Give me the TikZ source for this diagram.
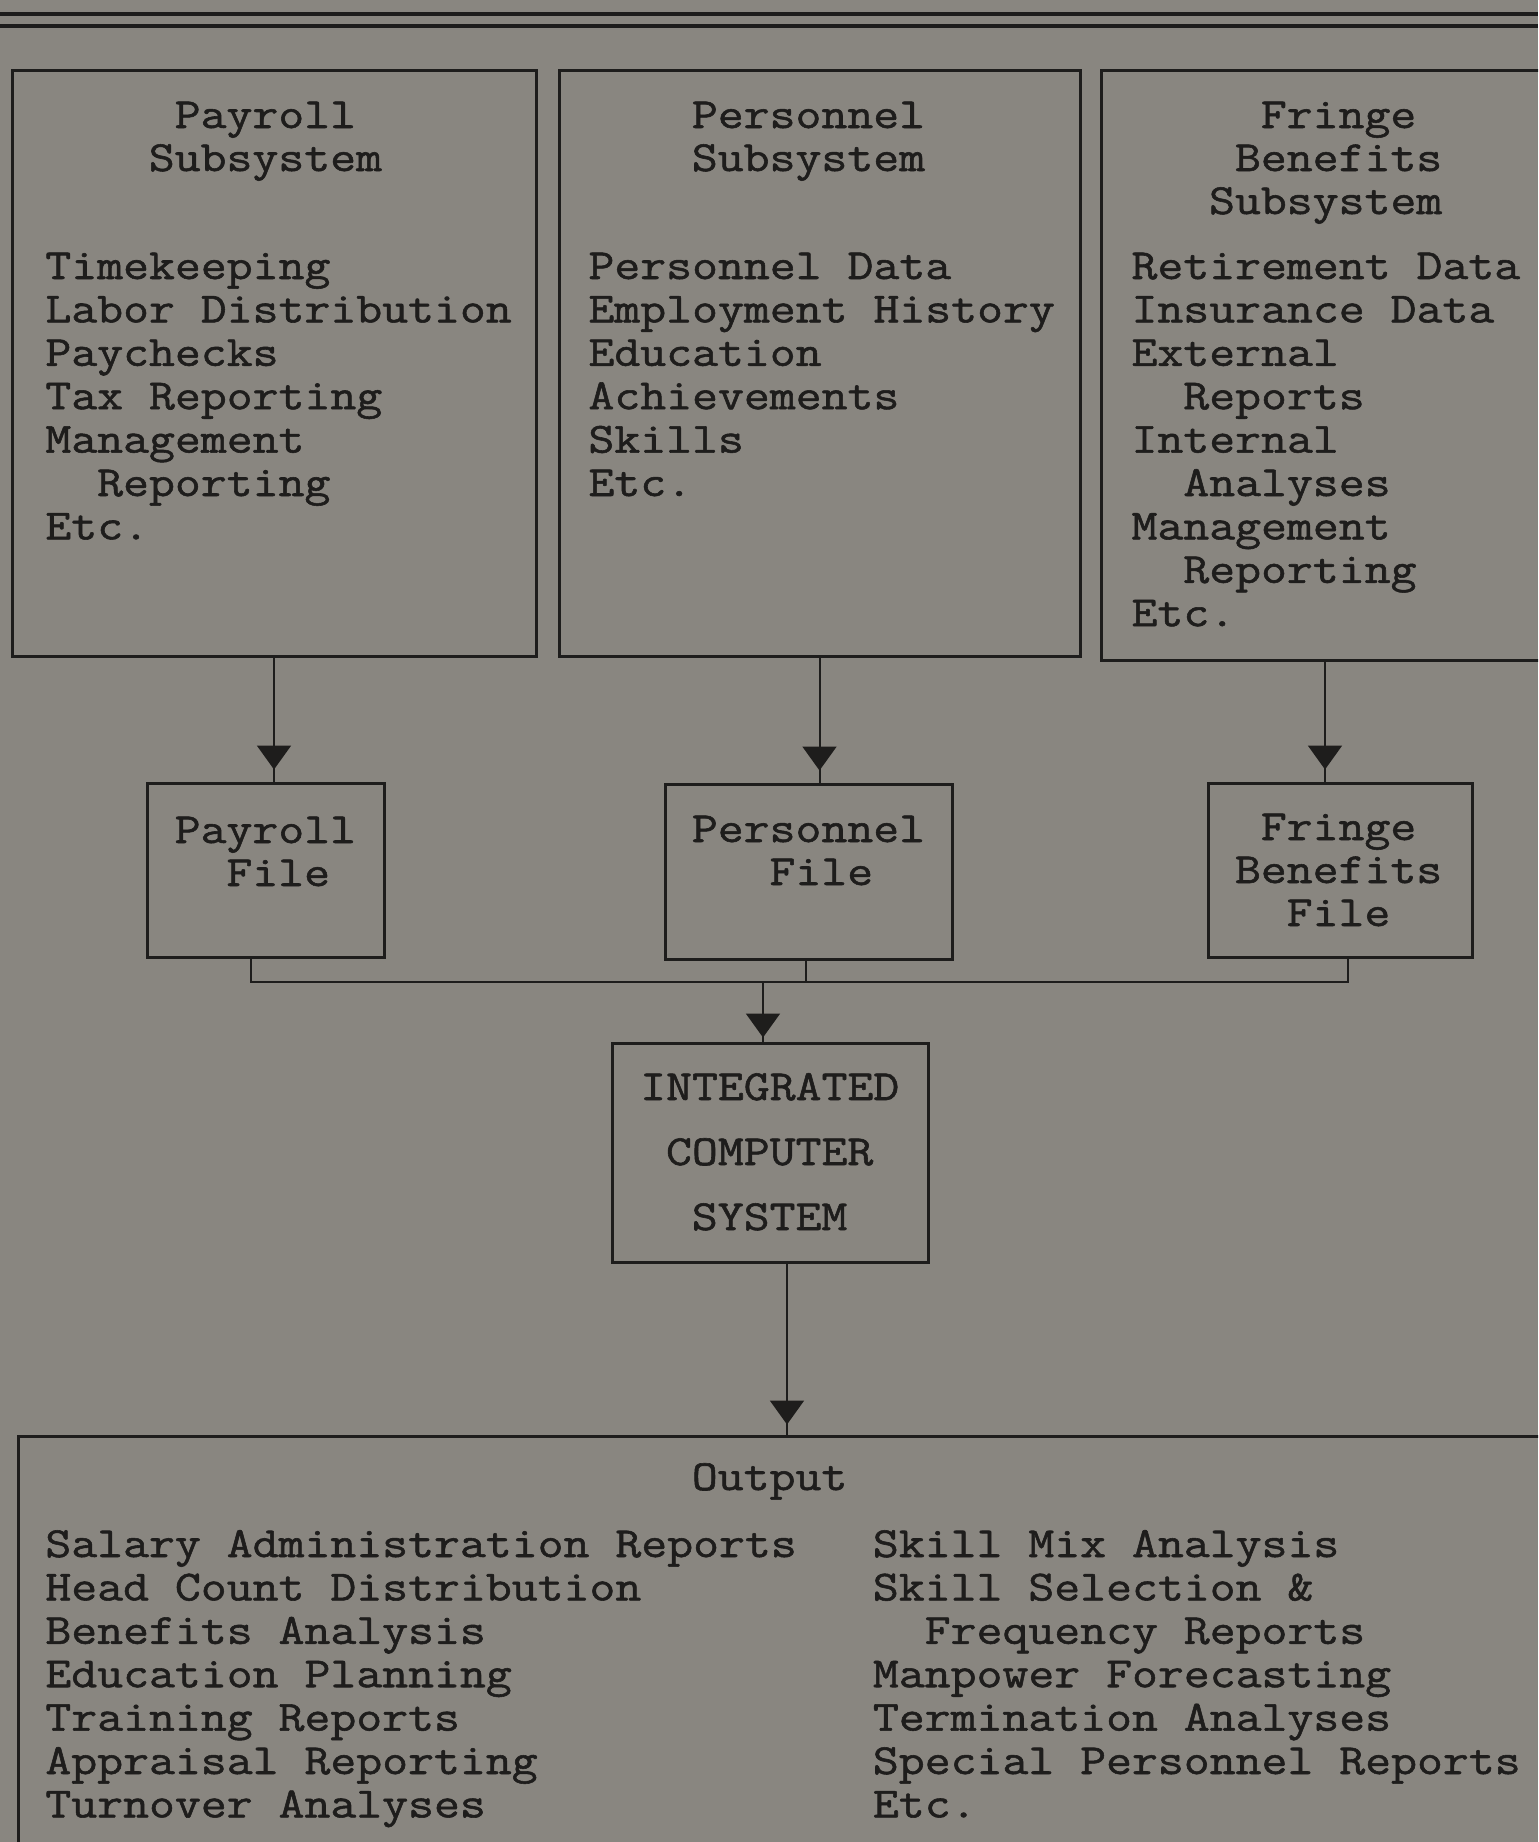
\documentclass[tikz,border=0pt]{standalone}
\usepackage{fontspec}
\newfontfamily\tw{Latin Modern Mono}[FakeBold=1.3,FakeStretch=1.17]
\usetikzlibrary{arrows.meta,decorations.markings,fit}
\definecolor{paper}{RGB}{137,134,128}
\definecolor{ink}{RGB}{30,29,28}
\begin{document}
\begin{tikzpicture}[x=0.5pt,y=-0.5pt,color=ink,
  txt/.style={font=\tw\fontsize{21.5}{21.7}\selectfont, text=ink, inner sep=0pt, anchor=base west},
  box/.style={draw=ink, line width=1.5pt, inner sep=0pt},
  wire/.style={draw=ink, line width=1pt},
  flow/.style={wire, postaction={decorate},
    decoration={markings, mark=at position -#1 with {\arrow{Triangle[width=17pt,length=12pt]}}}},
  flow/.default=6pt]
\def\cw{25.86}
\def\ls{43.4}
\useasboundingbox (0,0) rectangle (1538,1842);
\fill[paper] (0,0) rectangle (1538,1842);
\clip (0,0) rectangle (1538,1842);

% header rules
\draw[line width=2pt] (0,14) -- (1538,14);
\draw[line width=2pt] (0,26) -- (1538,26);

% boxes
\node[box, fit={(12,70) (536,656)}] (sub1) {};
\node[box, fit={(559,70) (1080,656)}] (sub2) {};
\node[box, fit={(1101,70) (1549,660)}] (sub3) {};
\node[box, fit={(147,783) (384,957)}] (file1) {};
\node[box, fit={(665,784) (952,959)}] (file2) {};
\node[box, fit={(1208,783) (1472,957)}] (file3) {};
\node[box, fit={(612,1043) (928,1262)}] (ics) {};
\node[box, fit={(18,1436) (1560,1880)}] (out) {};

% subsystem -> file
\draw[flow] (sub1.south) -- (sub1.south |- file1.north);
\draw[flow] (sub2.south) -- (sub2.south |- file2.north);
\draw[flow] (sub3.south) -- (sub3.south |- file3.north);

% files merge into the computer system
\coordinate (m1) at (251,982);
\coordinate (m2) at (806,982);
\coordinate (m3) at (1348,982);
\coordinate (m0) at (763,982);
\draw[wire] (file1.south -| m1) -- (m1) -- (m3) -- (file3.south -| m3);
\draw[wire] (file2.south -| m2) -- (m2);
\draw[flow=2pt] (m0) -- (ics.north -| m0);
\coordinate (d0) at (787,0);
\draw[flow=5pt] (ics.south -| d0) -- (out.north -| d0);

% Payroll subsystem
\node[txt] (h1a) at ({45+5*\cw},128) {Payroll};
\node[txt] (h1b) at ({45+4*\cw},171) {Subsystem};
\foreach \t [count=\i from 0] in {Timekeeping,Labor Distribution,Paychecks,Tax Reporting,Management,{\phantom{MM}Reporting},Etc.}
  \node[txt] (p-\i) at (45,{279+\ls*\i}) {\t};

% Personnel subsystem
\node[txt] (h2a) at ({45+25*\cw},128) {Personnel};
\node[txt] (h2b) at ({45+25*\cw},171) {Subsystem};
\foreach \t [count=\i from 0] in {Personnel Data,Employment History,Education,Achievements,Skills,Etc.}
  \node[txt] (q-\i) at ({45+21*\cw},{279+\ls*\i}) {\t};

% Fringe benefits subsystem
\node[txt] (h3a) at ({45+47*\cw},128) {Fringe};
\node[txt] (h3b) at ({45+46*\cw},171) {Benefits};
\node[txt] (h3c) at ({45+45*\cw},214) {Subsystem};
\foreach \t [count=\i from 0] in {Retirement Data,Insurance Data,External,{\phantom{MM}Reports},Internal,{\phantom{MM}Analyses},Management,{\phantom{MM}Reporting},Etc.}
  \node[txt] (r-\i) at ({45+42*\cw},{279+\ls*\i}) {\t};

% file labels
\node[txt] (f1a) at ({45+5*\cw},843) {Payroll};
\node[txt] (f1b) at ({45+7*\cw},886) {File};
\node[txt] (f2a) at ({45+25*\cw},842) {Personnel};
\node[txt] (f2b) at ({45+28*\cw},885) {File};
\node[txt] (f3a) at ({45+47*\cw},840) {Fringe};
\node[txt] (f3b) at ({45+46*\cw},883) {Benefits};
\node[txt] (f3c) at ({45+48*\cw},926) {File};

% computer system
\node[txt] (c1) at ({45+23*\cw},1100) {INTEGRATED};
\node[txt] (c2) at ({45+24*\cw},1165) {COMPUTER};
\node[txt] (c3) at ({45+25*\cw},1230) {SYSTEM};

% output
\node[txt] (o0) at ({45+25*\cw},1490) {Output};
\foreach \t [count=\i from 0] in {Salary Administration Reports,Head Count Distribution,Benefits Analysis,Education Planning,Training Reports,Appraisal Reporting,Turnover Analyses}
  \node[txt] (ol-\i) at (45,{1557+\ls*\i}) {\t};
\foreach \t [count=\i from 0] in {Skill Mix Analysis,Skill Selection \&,{\phantom{MM}Frequency Reports},Manpower Forecasting,Termination Analyses,Special Personnel Reports,Etc.}
  \node[txt] (or-\i) at ({45+32*\cw},{1557+\ls*\i}) {\t};
\end{tikzpicture}
\end{document}
